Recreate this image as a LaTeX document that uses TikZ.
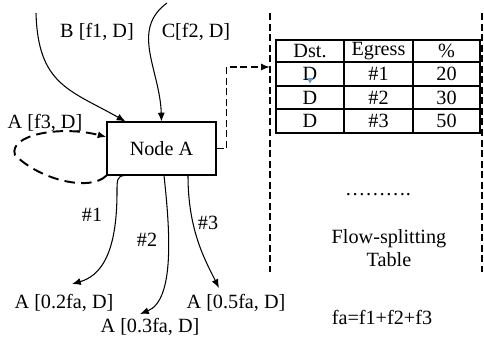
\documentclass[tikz,border=0pt]{standalone}
\usepackage{fontspec}
\setmainfont{Liberation Serif}
\usetikzlibrary{arrows.meta}
\definecolor{markblue}{RGB}{91,155,213}

\begin{document}
\begin{tikzpicture}[x=0.02cm,y=-0.02cm,
  font=\fontsize{11.5}{13}\selectfont,
  flow/.style={-{Latex[length=5pt,width=4pt]}, line width=0.6pt},
  loopflow/.style={flow, line width=1.1pt, dash pattern=on 6pt off 3.5pt},
  ctrlflow/.style={flow, line width=1.1pt, dash pattern=on 4pt off 2pt},
  border/.style={line width=1.1pt, dash pattern=on 4pt off 2pt},
  cell/.style={inner sep=0pt}]
\useasboundingbox (0,0) rectangle (484,343);

\node[draw, line width=0.6pt, minimum width=2.18cm, minimum height=1.06cm] (nodeA) at (161.5,148.5) {Node A};

\coordinate (inB) at (36,13);
\coordinate (inC) at (167,3);
\coordinate (outA) at (72,284);
\coordinate (outB) at (140,314);
\coordinate (outC) at (219,288);
\coordinate (tblin) at (270,67);

\node (lblB) at (97,32) {B [f1, D]};
\node (lblC) at (196,32) {C[f2, D]};
\node (lblA) at (45,123) {A [f3, D]};

\draw[flow] (inB) .. controls (38,85) and (70,90) .. ([xshift=0.38cm]nodeA.north west);
\draw[flow] (inC) .. controls (130,30) and (160,70) .. (nodeA.north);
\draw[loopflow] (nodeA.south west) .. controls (90,192) and (40,180) .. (15,155)
  .. controls (8,135) and (60,125) .. ([yshift=0.23cm]nodeA.west);

\draw[flow] ([xshift=0.36cm]nodeA.south west) .. controls (117,176) and (117,180) .. (117,192)
  .. controls (117,255) and (100,276) .. (outA);
\draw[flow] ([xshift=0.05cm]nodeA.south) .. controls (170,230) and (175,300) .. (outB);
\draw[flow] ([xshift=0.53cm]nodeA.south) .. controls (188,230) and (205,260) .. (outC);

\node (p1) at (92,215) {\#1};
\node (p2) at (147,240) {\#2};
\node (p3) at (208,223) {\#3};

\node (resA) at (64,303) {A [0.2fa, D]};
\node (resB) at (150,327) {A [0.3fa, D]};
\node (resC) at (236,303) {A [0.5fa, D]};

\draw[ctrlflow] (nodeA.east) -- ++(10,0) |- (tblin);

\draw[border] (270,13) -- (270,272);
\draw[border] (482,13) -- (482,272);

\draw[line width=0.6pt] (276,40) rectangle (480,133);
\foreach \y in {62,86,109}
  \draw[line width=0.6pt] (276,\y) -- (480,\y);
\foreach \x in {344,413}
  \draw[line width=0.6pt] (\x,40) -- (\x,133);

\node[cell] (hdst) at (310,51) {Dst.};
\node[cell] (hegr) at (378.5,51) {Egress};
\node[cell] (hpct) at (446.5,51) {\%};
\foreach \egr/\pct/\y [count=\r] in {1/20/74,2/30/97.5,3/50/121} {
  \node[cell] (dst\r) at (310,\y) {D};
  \node[cell] (egr\r) at (378.5,\y) {\#\egr};
  \node[cell] (pct\r) at (446.5,\y) {\pct};
}
\fill[markblue] (307,78) -- (313,78) -- (310,83.5) -- cycle;

\node (dots) at (378,195) {……….};
\node[align=center] (fst) at (389,248) {Flow-splitting\\Table};
\node (fsum) at (382,317) {fa=f1+f2+f3};
\end{tikzpicture}
\end{document}
